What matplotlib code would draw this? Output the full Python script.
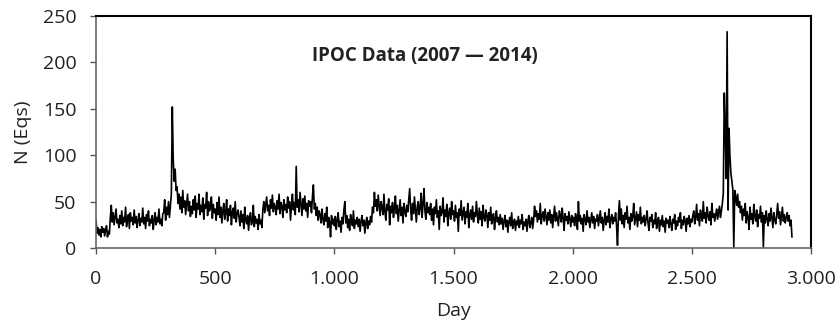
import numpy as np
import matplotlib
matplotlib.use("Agg")
import matplotlib.pyplot as plt
from matplotlib.ticker import FuncFormatter

n_eqs = [
    30, 16, 22, 14, 20, 12, 23, 17, 21, 13, 19, 24, 12, 18, 15, 33, 46, 28, 38, 25, 34, 42, 27, 31, 22,
    35, 26, 40, 24, 33, 28, 44, 23, 31, 36, 21, 38, 29, 33, 25, 41, 27, 34, 22, 30, 37, 24, 32, 28, 43,
    26, 33, 21, 36, 29, 40, 24, 31, 27, 35, 20, 30, 38, 25, 33, 28, 42, 26, 31, 24, 37, 38, 52, 30, 44,
    36, 50, 33, 46, 58, 152, 95, 72, 85, 62, 66, 48, 58, 42, 55, 38, 62, 44, 51, 36, 47, 58, 40, 50, 34,
    45, 37, 52, 41, 56, 33, 48, 42, 58, 36, 46, 39, 54, 31, 47, 43, 60, 35, 50, 40, 44, 55, 32, 47, 38,
    42, 30, 49, 36, 55, 33, 44, 27, 40, 48, 31, 38, 52, 29, 42, 35, 46, 25, 39, 43, 32, 50, 28, 37, 41,
    33, 24, 40, 28, 36, 21, 44, 30, 26, 35, 19, 32, 38, 25, 29, 46, 23, 34, 27, 31, 20, 36, 26, 30, 22,
    42, 50, 38, 47, 55, 40, 46, 35, 52, 43, 57, 39, 48, 44, 36, 51, 42, 58, 37, 49, 45, 33, 52, 41, 47,
    38, 55, 43, 50, 30, 46, 58, 41, 49, 36, 88, 44, 52, 39, 60, 47, 35, 53, 42, 56, 40, 48, 33, 51, 45,
    50, 38, 55, 68, 42, 48, 35, 44, 30, 40, 36, 27, 42, 31, 25, 37, 29, 44, 22, 33, 28, 12, 35, 26, 31,
    24, 34, 20, 30, 38, 23, 29, 17, 33, 26, 41, 50, 27, 35, 22, 31, 19, 36, 28, 24, 40, 21, 30, 26, 33,
    23, 31, 18, 29, 35, 24, 30, 16, 27, 33, 21, 29, 25, 34, 28, 44, 38, 60, 45, 52, 40, 57, 46, 35, 50,
    44, 36, 58, 39, 30, 47, 41, 53, 25, 45, 38, 49, 33, 43, 56, 37, 46, 29, 41, 52, 35, 44, 27, 48, 40,
    34, 46, 39, 52, 64, 42, 30, 48, 37, 55, 41, 28, 45, 50, 36, 43, 59, 33, 47, 64, 40, 31, 49, 38, 44,
    36, 48, 30, 42, 25, 44, 37, 52, 33, 40, 20, 45, 35, 39, 54, 28, 41, 34, 47, 24, 38, 43, 31, 50, 36,
    40, 29, 46, 33, 38, 18, 42, 35, 51, 30, 37, 44, 26, 39, 33, 48, 22, 36, 41, 31, 45, 28, 38, 34, 50,
    35, 27, 43, 31, 39, 24, 46, 33, 29, 41, 36, 22, 38, 30, 44, 26, 34, 37, 20, 32, 40, 28, 33, 25, 36,
    26, 32, 20, 29, 35, 23, 30, 17, 28, 33, 24, 38, 21, 27, 31, 19, 29, 25, 34, 22, 30, 26, 36, 20, 28,
    24, 31, 18, 29, 35, 22, 27, 33, 21, 30, 45, 34, 40, 28, 37, 31, 48, 26, 35, 39, 29, 42, 33, 25, 38,
    30, 41, 27, 36, 22, 33, 45, 29, 38, 31, 24, 40, 35, 28, 43, 32, 19, 37, 30, 34, 26, 39, 31, 23, 35,
    28, 33, 24, 37, 30, 20, 50, 29, 35, 26, 32, 18, 36, 31, 25, 40, 28, 33, 22, 30, 38, 27, 34, 21, 31,
    29, 36, 24, 32, 40, 27, 33, 19, 30, 38, 25, 34, 28, 42, 22, 31, 36, 26, 33, 29, 38, 24, 3, 35, 51,
    30, 42, 26, 35, 22, 38, 31, 45, 27, 33, 20, 37, 29, 34, 48, 25, 32, 39, 23, 36, 30, 44, 26, 33, 28,
    35, 24, 31, 40, 27, 19, 33, 29, 36, 22, 30, 26, 38, 21, 28, 33, 18, 30, 25, 35, 23, 29, 17, 32, 27,
    30, 22, 34, 26, 19, 31, 27, 36, 20, 29, 24, 33, 28, 38, 21, 30, 25, 34, 29, 18, 32, 26, 35, 23, 31,
    28, 35, 40, 26, 33, 47, 30, 37, 24, 41, 34, 29, 50, 32, 38, 27, 44, 35, 30, 39, 25, 48, 33, 37, 29,
    36, 42, 31, 38, 45, 33, 40, 48, 59, 167, 127, 75, 233, 41, 129, 98, 80, 72, 63, 1, 62, 55, 46, 58, 44,
    50, 38, 45, 30, 42, 35, 48, 27, 39, 33, 20, 44, 31, 37, 26, 47, 34, 29, 41, 23, 36, 32, 45, 28, 38,
    1, 35, 27, 40, 31, 24, 37, 29, 43, 33, 22, 38, 30, 26, 36, 48, 32, 39, 25, 34, 44, 29, 36, 27, 33,
    38, 29, 35, 24, 30, 12,
]
days = np.arange(len(n_eqs)) * 4

x_ticks = [0, 500, 1000, 1500, 2000, 2500, 3000]
y_ticks = [0, 50, 100, 150, 200, 250]
title = "IPOC Data (2007 \u2014 2014)"

plt.rcParams["font.family"] = ["Open Sans", "DejaVu Sans"]

fig = plt.figure(figsize=(8.38, 3.25), dpi=100)
ax = fig.add_axes([0.1146, 0.2369, 0.8532, 0.7139])

ax.plot(days, n_eqs, color="black", linewidth=1.2)

ax.set_xlim(0, 3000)
ax.set_ylim(0, 250)
ax.set_xticks(x_ticks)
ax.set_yticks(y_ticks)
ax.xaxis.set_major_formatter(FuncFormatter(lambda v, p: f"{int(v):,}".replace(",", ".")))
ax.tick_params(direction="out", length=4, width=1, colors="#555555", labelcolor="#222222", labelsize=14)
ax.tick_params(axis="x", pad=12)
ax.tick_params(axis="y", pad=10)

for side in ["top", "right"]:
    ax.spines[side].set_color("black")
    ax.spines[side].set_linewidth(1.5)
for side in ["left", "bottom"]:
    ax.spines[side].set_color("#666666")
    ax.spines[side].set_linewidth(1.2)

ax.set_xlabel("Day", fontsize=14, labelpad=10, color="#222222")
ax.set_ylabel("N (Eqs)", fontsize=14, labelpad=8, color="#222222")
ax.text(0.46, 0.828, title, transform=ax.transAxes, ha="center", va="center",
        fontsize=13.5, fontweight="bold", color="#222222")

fig.savefig("out.png", dpi=100)
